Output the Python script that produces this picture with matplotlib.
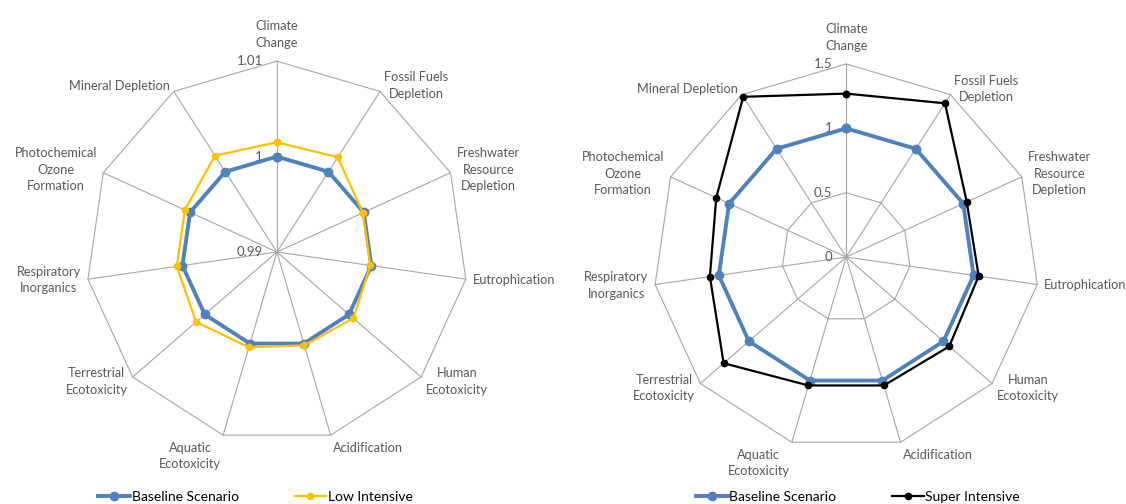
import numpy as np
import matplotlib
matplotlib.use("Agg")
import matplotlib.pyplot as plt
from matplotlib.lines import Line2D

# impact categories, clockwise from the top
categories = [
    "Climate\nChange",
    "Fossil Fuels\nDepletion",
    "Freshwater\nResource\nDepletion",
    "Eutrophication",
    "Human\nEcotoxicity",
    "Acidification",
    "Aquatic\nEcotoxicity",
    "Terrestrial\nEcotoxicity",
    "Respiratory\nInorganics",
    "Photochemical\nOzone\nFormation",
    "Mineral Depletion",
]

# left chart: baseline vs low intensive (normalised to baseline)
baseline_left = [1.0, 1.0, 1.0, 1.0, 1.0, 1.0, 1.0, 1.0, 1.0, 1.0, 1.0]
low_intensive = [1.0015, 1.0018, 0.9999, 0.9999, 1.0006, 1.0002, 1.0004, 1.0012, 1.0006, 1.0006, 1.002]
left_ticks = [0.99, 1.0, 1.01]
left_tick_labels = ["0.99", "1", "1.01"]

# right chart: baseline vs super intensive
baseline_right = [1.0, 1.0, 1.0, 1.0, 1.0, 1.0, 1.0, 1.0, 1.0, 1.0, 1.0]
super_intensive = [1.27, 1.42, 1.03, 1.04, 1.06, 1.04, 1.04, 1.26, 1.07, 1.11, 1.48]
right_ticks = [0, 0.5, 1.0, 1.5]
right_tick_labels = ["0", "0.5", "1", "1.5"]

BLUE = "#4F81BD"
YELLOW = "#FFC000"
BLACK = "#000000"
GRID = "#A6A6A6"
TEXT = "#595959"
FONT = "Lato"

plt.rcParams["font.family"] = [FONT, "DejaVu Sans"]

fig = plt.figure(figsize=(11.26, 5.04), dpi=100)


def radar(rect, ticks, tick_labels, series):
    ax = fig.add_axes(rect, projection="polar")
    ax.set_theta_zero_location("N")
    ax.set_theta_direction(-1)
    ax.set_ylim(ticks[0], ticks[-1])
    ax.grid(False)
    ax.spines["polar"].set_visible(False)
    ax.set_xticks([])
    ax.set_yticks([])
    ax.patch.set_alpha(0)

    n = len(categories)
    theta = np.linspace(0, 2 * np.pi, n, endpoint=False)
    closed = np.append(theta, theta[0])
    rmin, rmax = ticks[0], ticks[-1]

    # polygon rings and spokes
    for t in ticks[1:]:
        ax.plot(closed, [t] * (n + 1), color=GRID, lw=0.8, zorder=1, clip_on=False)
    for th in theta:
        ax.plot([th, th], [rmin, rmax], color=GRID, lw=0.8, zorder=1, clip_on=False)

    # radial tick labels along the top spoke
    for t, lab in zip(ticks, tick_labels):
        ax.annotate(lab, xy=(0, t), xytext=(-10, 0), textcoords="offset points",
                    ha="right", va="center", fontsize=9.5, color=TEXT)

    # category labels
    for th, lab in zip(theta, categories):
        s, c = np.sin(th), np.cos(th)
        ha = "center" if abs(s) < 0.2 else ("left" if s > 0 else "right")
        va = "bottom" if c > 0.9 else ("top" if c < -0.9 else "center")
        pad = 9 if c > 0.9 else 5
        ax.annotate(lab, xy=(th, rmax), xytext=(pad * s, pad * c), textcoords="offset points",
                    ha=ha, va=va, multialignment="center", fontsize=9.2,
                    color=TEXT, linespacing=1.45)

    for vals, color, lw, ms, z in series:
        v = list(vals) + [vals[0]]
        ax.plot(closed, v, color=color, lw=lw, marker="o", ms=ms, zorder=z, clip_on=False)
    return ax


radar([0.0764, 0.121, 0.339, 0.758], left_ticks, left_tick_labels,
      [(baseline_left, BLUE, 2.8, 6, 3), (low_intensive, YELLOW, 1.6, 4.5, 4)])
radar([0.580, 0.107, 0.343, 0.766], right_ticks, right_tick_labels,
      [(baseline_right, BLUE, 2.8, 6, 3), (super_intensive, BLACK, 1.6, 4.5, 4)])

h_base = Line2D([], [], color=BLUE, lw=2.8, marker="o", ms=6)
h_low = Line2D([], [], color=YELLOW, lw=1.6, marker="o", ms=4.5)
h_sup = Line2D([], [], color=BLACK, lw=1.6, marker="o", ms=4.5)

leg_kw = dict(loc="center", ncol=2, frameon=False, fontsize=10, handlelength=2.3,
              handletextpad=0.1, columnspacing=4.0, borderpad=0)
fig.legend([h_base, h_low], ["Baseline Scenario", "Low Intensive"],
           bbox_to_anchor=(0.227, 0.014), **leg_kw)
fig.legend([h_base, h_sup], ["Baseline Scenario", "Super Intensive"],
           bbox_to_anchor=(0.762, 0.014), **leg_kw)

fig.savefig("out.png", dpi=100)
